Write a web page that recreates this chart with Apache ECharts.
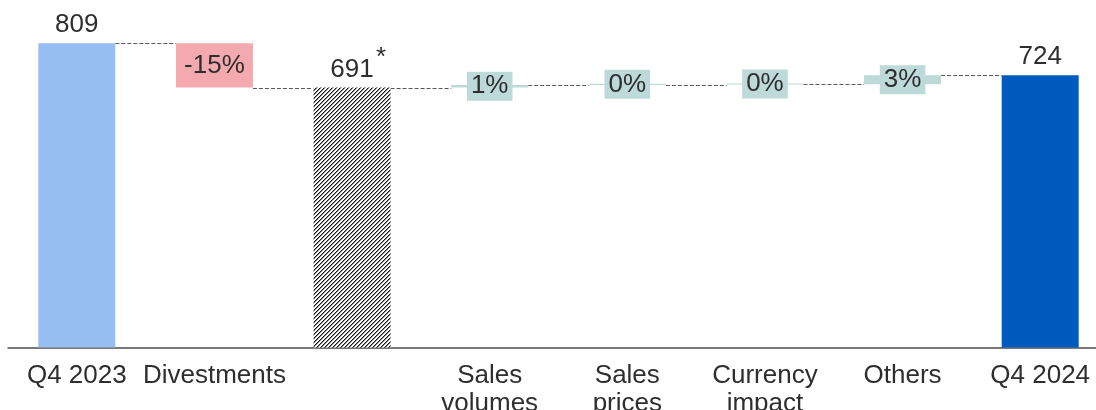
<!DOCTYPE html>
<html>
<head>
<meta charset="utf-8">
<script src="https://cdn.jsdelivr.net/npm/echarts@6/dist/echarts.min.js"></script>
<style>
  html, body { margin: 0; padding: 0; background: #fff; }
  #chart { width: 1096px; height: 410px; }
</style>
</head>
<body>
<div id="chart"></div>
<script>
// Bridge from Q4 2023 to Q4 2024
const categories = ['Q4 2023', 'Divestments', '', 'Sales\nvolumes', 'Sales\nprices', 'Currency\nimpact', 'Others', 'Q4 2024'];
const totals  = [809, null, 691, null, null, null, null, 724];   // full-height bars
const changes = [null, -118, null, 7, 1, 1, 24, null];           // step changes
const footnoteIndex = 2;                                          // bar carrying the "*"

const FONT = '"Liberation Sans", Arial, sans-serif';
const TEXT = '#2e2e2e';
const BAR_W = 77;

// diagonal hatch for the comparable-base bar
function hatch() {
  const c = document.createElement('canvas');
  c.width = 4; c.height = 4;
  const g = c.getContext('2d');
  g.fillStyle = '#ffffff'; g.fillRect(0, 0, 4, 4);
  for (let x = 0; x < 4; x++) {
    g.fillStyle = '#141414';
    g.fillRect(x, 3 - x, 1, 1);
    g.fillStyle = '#8a8a8a';
    g.fillRect(x, (4 - x) % 4, 1, 1);
  }
  return c;
}

const totalColors = ['#97BEF0', { image: hatch(), repeat: 'repeat' }, '#005BBF'];

// running levels, floating offsets and change bars
const offsets = [], deltas = [], levels = [];
let level = 0;
categories.forEach((_, i) => {
  if (totals[i] != null) {
    level = totals[i];
    offsets.push('-');
    deltas.push('-');
  } else {
    const prev = level, ch = changes[i];
    level = prev + ch;
    offsets.push(Math.min(prev, level));
    const pct = Math.round(ch / prev * 100) + '%';
    const neg = ch < 0;
    deltas.push({
      value: Math.abs(ch),
      itemStyle: { color: neg ? '#F4A9AE' : '#BDDAD9' },
      label: neg
        ? { formatter: pct }
        : { formatter: pct, backgroundColor: '#BDDAD9', padding: [2, 4, 1, 4] }
    });
  }
  levels.push(level);
});

let k = 0;
const totalData = totals.map(v => v == null ? '-' : {
  value: v,
  itemStyle: { color: totalColors[k++] }
});

const noteData = totals.map((v, i) => i === footnoteIndex ? v : '-');
const connectors = levels.slice(0, -1).map((v, i) => [i, v]);

const chart = echarts.init(document.getElementById('chart'), null, { renderer: 'canvas' });
chart.setOption({
  animation: false,
  textStyle: { fontFamily: FONT },
  grid: { left: 8, top: 9, width: 1101, height: 338.5, containLabel: false, outerBoundsMode: 'none' },
  xAxis: {
    type: 'category',
    data: categories,
    axisLine: { lineStyle: { color: '#4d4d4d', width: 1.5 } },
    axisTick: { show: false },
    axisLabel: { interval: 0, fontSize: 26, lineHeight: 28, color: TEXT, margin: 14, fontFamily: FONT }
  },
  yAxis: { type: 'value', min: 0, max: 900, show: false, splitLine: { show: false } },
  series: [
    {
      name: 'offset', type: 'bar', stack: 'w', barWidth: BAR_W, silent: true,
      itemStyle: { color: 'transparent' }, data: offsets
    },
    {
      name: 'change', type: 'bar', stack: 'w', barWidth: BAR_W, silent: true, barMinHeight: 1.2,
      label: { show: true, position: 'inside', fontSize: 26, lineHeight: 26, color: TEXT, fontFamily: FONT },
      data: deltas
    },
    {
      name: 'total', type: 'bar', barWidth: BAR_W, barGap: '-100%', silent: true,
      label: { show: true, position: 'top', distance: 5, fontSize: 26, color: TEXT, fontFamily: FONT },
      data: totalData
    },
    {
      name: 'note', type: 'bar', barWidth: BAR_W, barGap: '-100%', silent: true,
      itemStyle: { color: 'transparent' },
      label: { show: true, position: 'top', distance: 5, formatter: '*', offset: [29, -12],
               fontSize: 26, color: TEXT, fontFamily: FONT },
      data: noteData
    },
    {
      name: 'connector', type: 'custom', silent: true, z: 1,
      renderItem: function (params, api) {
        const p = api.coord([api.value(0), api.value(1)]);
        const w = api.size([1, 0])[0];
        const y = Math.round(p[1]) + 0.5;
        return {
          type: 'line',
          shape: { x1: p[0] + BAR_W / 2, y1: y, x2: p[0] + w - BAR_W / 2, y2: y },
          style: { stroke: '#595959', lineWidth: 1, lineDash: [4, 2] }
        };
      },
      data: connectors
    }
  ]
});
</script>
</body>
</html>
